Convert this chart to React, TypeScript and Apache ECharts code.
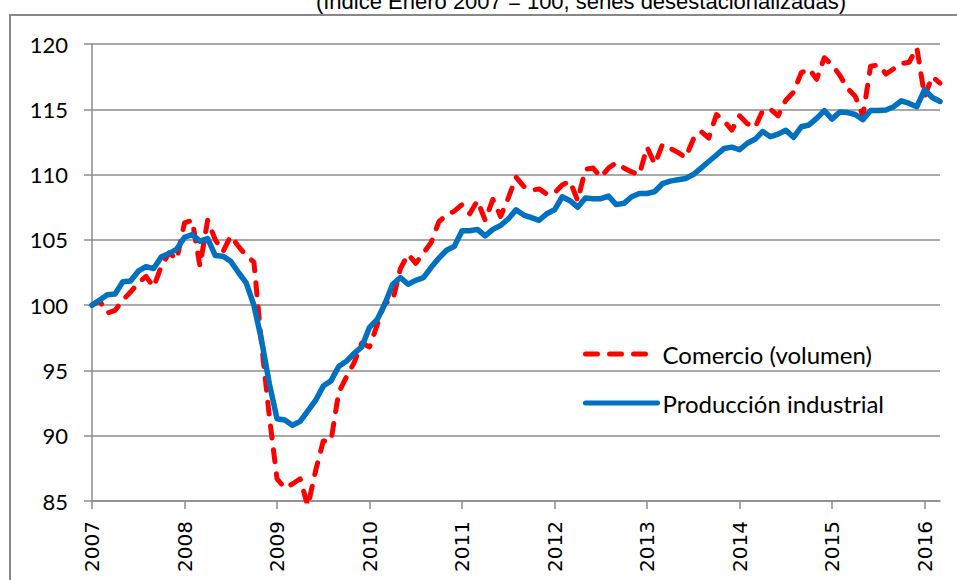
import React, { useEffect, useRef } from "react";
import * as echarts from "echarts";

const titleText = "(Índice Enero 2007 = 100, series desestacionalizadas)";
const years = ["2007", "2008", "2009", "2010", "2011", "2012", "2013", "2014", "2015", "2016"];
const monthsInLastYear = 3;
const months: string[] = [];
years.forEach((y, k) => {
  const n = k === years.length - 1 ? monthsInLastYear : 12;
  for (let m = 1; m <= n; m++) months.push(`${y}-${String(m).padStart(2, "0")}`);
});

const yMin = 85;
const yMax = 120;
const yStep = 5;

const seriesNames = ["Comercio (volumen)", "Producción industrial"];

const comercio = [
  100.0, 100.3, 99.4, 99.6, 100.4, 101.0, 101.7, 102.2, 101.4, 103.0,
  104.0, 103.5, 106.3, 106.5, 103.0, 106.5, 105.0, 104.1, 105.3, 104.5,
  103.8, 103.3, 97.0, 91.5, 86.7, 86.0, 86.3, 86.7, 84.6, 87.3,
  89.6, 89.6, 93.3, 94.5, 95.6, 97.1, 96.8, 98.5, 100.2, 100.3,
  102.8, 103.9, 103.2, 104.0, 104.8, 106.4, 106.9, 107.2, 107.7, 107.0,
  108.0, 106.5, 108.1, 106.8, 108.2, 109.8, 109.1, 108.8, 108.9, 108.5,
  108.6, 109.2, 109.5, 108.0, 110.4, 110.5, 109.8, 110.5, 110.9, 110.5,
  110.2, 110.0, 112.1, 110.8, 112.3, 112.0, 111.7, 111.3, 112.7, 113.3,
  112.8, 114.6, 114.1, 113.4, 114.5, 113.9, 113.6, 114.9, 115.0, 114.5,
  115.7, 116.3, 117.8, 118.1, 117.3, 118.95, 118.4, 117.6, 116.6, 116.0,
  114.5, 118.3, 118.4, 117.7, 118.1, 118.5, 118.6, 119.7, 116.0, 117.5,
  117.0,
];

const produccion = [
  100.0, 100.4, 100.8, 100.85, 101.8, 101.85, 102.6, 102.95, 102.8, 103.7,
  103.95, 104.3, 105.2, 105.4, 104.9, 105.1, 103.8, 103.75, 103.35, 102.5,
  101.7, 100.0, 97.3, 94.0, 91.3, 91.2, 90.8, 91.1, 91.9, 92.7,
  93.8, 94.2, 95.3, 95.7, 96.3, 96.8, 98.3, 98.9, 100.1, 101.6,
  102.1, 101.6, 101.9, 102.1, 102.9, 103.6, 104.2, 104.5, 105.7, 105.7,
  105.8, 105.3, 105.8, 106.1, 106.6, 107.3, 106.9, 106.7, 106.5, 107.0,
  107.3, 108.3, 108.0, 107.5, 108.2, 108.15, 108.15, 108.35, 107.7, 107.8,
  108.3, 108.55, 108.55, 108.7, 109.3, 109.5, 109.6, 109.7, 110.0, 110.5,
  111.0, 111.5, 112.0, 112.1, 111.9, 112.4, 112.7, 113.3, 112.9, 113.1,
  113.4, 112.85, 113.66, 113.8, 114.3, 114.9, 114.25, 114.8, 114.75, 114.6,
  114.2, 114.9, 114.9, 114.95, 115.2, 115.65, 115.45, 115.2, 116.5, 115.9,
  115.6,
];

const gray = "#8c8c8c";

export default function App() {
  const ref = useRef<HTMLDivElement>(null);
  useEffect(() => {
    document.body.style.margin = "0";
    if (!ref.current) return;
    const chart = echarts.init(ref.current, null, { renderer: "svg" });
    chart.setOption({
      animation: false,
      backgroundColor: "#ffffff",
      textStyle: { fontFamily: "Lato" },
      grid: { left: 92, right: 17, top: 44, bottom: 79, containLabel: false },
      graphic: {
        elements: [
          {
            type: "polyline",
            z: 100,
            shape: {
              points: [
                [10, 580],
                [10, 15],
                [957, 15],
              ],
            },
            style: { stroke: "#888888", lineWidth: 2, fill: null },
          },
          {
            type: "text",
            x: 581,
            y: 1.5,
            style: {
              text: titleText,
              fontFamily: "Liberation Sans",
              fontSize: 22,
              fill: "#000",
              align: "center",
              verticalAlign: "middle",
            },
          },
        ],
      },
      legend: {
        orient: "vertical",
        left: 583,
        top: 342,
        padding: 0,
        itemWidth: 72,
        itemHeight: 24,
        itemGap: 25,
        lineStyle: { width: 5 },
        itemStyle: { opacity: 0 },
        textStyle: { fontFamily: "Lato", fontSize: 24, lineHeight: 24, color: "#000" },
        data: seriesNames,
      },
      xAxis: {
        type: "category",
        data: months,
        boundaryGap: false,
        axisLine: { lineStyle: { color: gray, width: 1.5 } },
        axisTick: { show: true, interval: 11, length: 8, lineStyle: { color: gray, width: 1.5 } },
        axisLabel: {
          interval: 11,
          rotate: 90,
          margin: 20,
          fontFamily: "DejaVu Sans",
          fontSize: 20,
          color: "#000",
          formatter: (v: string) => v.slice(0, 4),
        },
        splitLine: { show: false },
      },
      yAxis: {
        type: "value",
        min: yMin,
        max: yMax,
        interval: yStep,
        axisLine: { show: true, lineStyle: { color: gray, width: 1.5 } },
        axisTick: { show: true, length: 8, lineStyle: { color: gray, width: 1.5 } },
        axisLabel: { fontFamily: "Lato", fontSize: 22, color: "#000", margin: 24 },
        splitLine: { show: true, lineStyle: { color: gray, width: 1.5 } },
      },
      series: [
        {
          name: seriesNames[0],
          type: "line",
          data: comercio,
          symbol: "none",
          clip: true,
          itemStyle: { color: "#ff0000" },
          lineStyle: { color: "#ff0000", width: 5, type: [12, 12], cap: "round", join: "round" },
        },
        {
          name: seriesNames[1],
          type: "line",
          data: produccion,
          symbol: "none",
          clip: true,
          itemStyle: { color: "#0070c0" },
          lineStyle: { color: "#0070c0", width: 5.5, cap: "round", join: "round" },
        },
      ],
    });
    return () => chart.dispose();
  }, []);
  return <div ref={ref} style={{ width: 957, height: 580 }} />;
}
